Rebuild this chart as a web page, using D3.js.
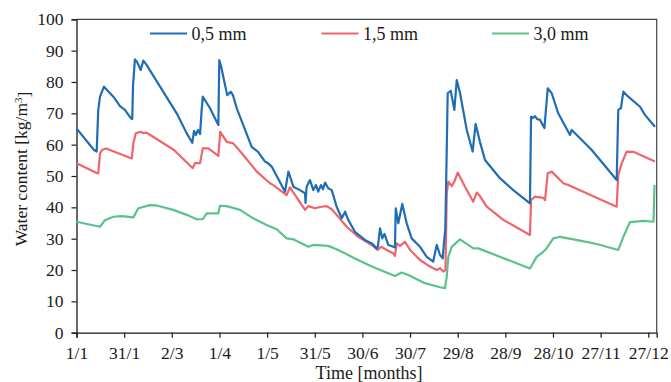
<!DOCTYPE html>
<html><head><meta charset="utf-8">
<script src="https://cdn.jsdelivr.net/npm/d3@7"></script>
<style>body{margin:0;background:#fff}</style>
</head><body><svg id="c" width="671" height="382"></svg>
<script>
// day of year (0 = 1 Jan), water content [kg/m3]
const blue05 = [[0,65.2],[11,58.3],[12.7,57.8],[13.7,71.1],[14.8,75.3],[17.3,78.5],[23.2,75.3],[27.4,72.3],[30.5,71.1],[34.3,68.4],[35.1,68.2],[35.6,79.0],[36.8,87.2],[38.1,86.4],[40.4,83.8],[42.1,86.8],[43.8,85.7],[52.6,78.5],[63.1,70.0],[69.4,63.6],[72.9,60.6],[74.0,64.4],[75.2,63.1],[76.5,64.7],[77.8,63.4],[78.8,71.1],[79.5,75.3],[84.0,71.7],[89.3,66.3],[89.9,87.0],[91.0,85.1],[92.4,81.7],[94.9,75.8],[97.1,76.9],[98.5,75.8],[100.9,71.6],[110.3,59.3],[114.3,57.7],[118.7,54.6],[120.6,54.1],[122.9,53.0],[131.3,45.0],[133.4,51.4],[134.4,50.0],[136.5,46.6],[140.7,45.5],[143.9,44.5],[144.2,41.4],[144.9,46.6],[147.0,48.7],[149.1,45.5],[150.8,47.1],[152.2,45.0],[153.9,47.1],[155.2,45.8],[156.5,47.9],[158.5,46.1],[160.7,45.5],[163.8,40.2],[167.0,36.5],[169.1,38.6],[171.1,36.0],[175.3,32.2],[181.6,29.6],[185.9,28.5],[189.0,26.9],[189.8,27.6],[191.1,33.3],[192.5,30.1],[193.9,31.5],[196.3,28.0],[199.5,27.4],[200.5,27.2],[201.0,39.7],[202.6,34.9],[205.1,41.1],[207.9,34.9],[211.0,30.1],[216.3,27.4],[220.5,24.2],[224.6,22.7],[226.8,28.0],[228.9,24.8],[230.6,23.7],[231.4,29.0],[232.2,32.8],[233.1,58.3],[233.7,76.4],[235.6,77.2],[236.7,74.3],[237.9,71.1],[239.4,80.6],[241.5,76.4],[245.7,64.7],[249.4,57.8],[251.3,66.6],[254.0,60.9],[257.2,55.1],[266.6,49.3],[275.0,45.5],[285.5,41.3],[286.2,68.9],[287.4,68.5],[288.7,69.1],[289.9,68.2],[291.8,67.9],[294.6,65.3],[296.7,78.0],[299.2,76.4],[303.3,70.0],[309.6,64.1],[310.7,63.1],[311.8,64.7],[324.4,58.3],[340.1,48.7],[341.1,71.1],[342.8,71.7],[344.3,76.9],[347.4,75.3],[354.8,72.1],[357.9,69.5],[364.2,65.7]];
const red15 = [[0,54.1],[13.1,50.9],[13.7,50.9],[14.8,57.2],[16.1,58.3],[18.6,58.8],[34.8,55.6],[35.8,60.4],[37.3,63.6],[40.4,64.1],[41.9,63.7],[44.2,63.8],[61.4,58.3],[73.2,52.5],[74.6,54.1],[77.8,54.1],[79.5,58.8],[83.0,58.8],[89.3,56.4],[90.5,64.1],[94.6,60.9],[98.7,60.4],[105.0,56.7],[113.5,51.4],[121.8,47.7],[123.9,47.1],[132.3,43.9],[134.4,46.4],[136.3,44.9],[143.9,39.2],[145.9,40.4],[150.2,39.7],[153.3,40.1],[157.5,40.4],[160.7,39.4],[164.8,37.0],[170.1,33.8],[177.4,30.6],[185.9,28.0],[189.6,26.4],[191.7,27.4],[194.2,26.7],[199.5,25.3],[200.5,24.5],[201.6,28.5],[203.7,27.7],[206.8,29.0],[210.0,26.4],[216.3,23.2],[222.6,21.1],[226.8,20.0],[228.9,20.6],[230.9,19.5],[232.3,20.0],[233.1,44.5],[234.1,48.2],[236.2,46.8],[237.9,48.2],[240.0,51.1],[244.6,46.6],[249.8,41.8],[252.0,44.7],[254.0,43.6],[258.3,40.2],[268.7,36.0],[285.5,31.2],[286.2,42.3],[288.7,43.4],[293.9,43.0],[295.0,42.3],[296.7,50.9],[299.2,51.4],[306.5,47.7],[309.6,47.1],[340.1,40.2],[341.1,50.3],[343.3,54.1],[346.4,57.8],[350.6,57.7],[364.2,54.6]];
const green30 = [[0,35.4],[14.8,33.8],[17.9,35.9],[23.2,37.0],[28.5,37.2],[35.8,36.8],[38.9,39.7],[46.3,40.7],[50.5,40.6],[60.9,39.2],[69.4,37.6],[75.7,36.2],[79.5,36.2],[82.0,38.1],[89.3,38.1],[90.3,40.5],[94.6,40.4],[103.0,39.2],[111.3,36.5],[119.7,34.4],[126.0,33.0],[132.3,30.1],[136.5,29.8],[145.9,27.4],[149.1,28.0],[158.5,27.7],[164.8,26.4],[175.3,23.7],[185.9,21.1],[200.5,18.1],[204.7,19.2],[208.9,18.4],[219.4,15.8],[228.9,14.5],[232.0,14.2],[233.1,17.9],[234.1,24.2],[236.2,27.4],[241.5,29.8],[249.8,26.9],[253.0,26.9],[285.5,20.5],[289.7,24.2],[293.9,25.8],[295.6,26.7],[300.2,30.1],[304.4,30.6],[317.0,29.4],[327.5,28.3],[341.1,26.4],[344.3,30.6],[348.5,35.3],[356.9,35.7],[363.3,35.4],[363.9,47.1]];
const seriesNames = ["0,5 mm","1,5 mm","3,0 mm"];
const seriesColors = ["#1f6db5","#f0646c","#5cc28c"];
const xTickDays = [0,30,60,90,120,150,180,210,240,270,300,330,360];
const xTickLabels = ["1/1","31/1","2/3","1/4","1/5","31/5","30/6","30/7","29/8","28/9","28/10","27/11","27/12"];
const yTicks = [0,10,20,30,40,50,60,70,80,90,100];

const svg = d3.select("#c");
const L=76.5, R=656.7, T=19.3, B=332.7;
const x = d3.scaleLinear().domain([0,365.3]).range([L,R]);
const y = d3.scaleLinear().domain([0,100]).range([B,T]);
const font = "'Liberation Serif','Times New Roman',serif";
const ink = "#1a1a1a";

// frame top/right
svg.append("path").attr("d",`M${L},${T}H${R}V${B}`).attr("fill","none").attr("stroke","#444").attr("stroke-width",1.2);

const xAxis = d3.axisBottom(x).tickValues(xTickDays).tickFormat((d,i)=>xTickLabels[i]).tickSize(5).tickPadding(9);
const gx = svg.append("g").attr("transform",`translate(0,${B})`).call(xAxis);
const yAxis = d3.axisLeft(y).tickValues(yTicks).tickSize(5).tickPadding(8);
const gy = svg.append("g").attr("transform",`translate(${L},0)`).call(yAxis);
[gx,gy].forEach(g=>{
  g.select(".domain").attr("stroke",ink).attr("stroke-width",1.3);
  g.selectAll(".tick line").attr("stroke",ink).attr("stroke-width",1.2);
  g.selectAll("text").attr("fill",ink).style("font-family",font).style("font-size","17.5px");
});
gx.selectAll("text").attr("dy","0.71em");

const line = d3.line().x(d=>x(d[0])).y(d=>y(d[1]));
[green30, red15, blue05].forEach((s,k)=>{
  const idx = 2-k;
  svg.append("path").datum(s).attr("d",line).attr("fill","none")
    .attr("stroke",seriesColors[idx]).attr("stroke-width",2.2).attr("stroke-linejoin","round");
});

// legend
const legX = [150, 321.5, 492];
seriesNames.forEach((n,i)=>{
  svg.append("line").attr("x1",legX[i]).attr("x2",legX[i]+37).attr("y1",33.5).attr("y2",33.5)
    .attr("stroke",seriesColors[i]).attr("stroke-width",2.2);
  svg.append("text").attr("x",legX[i]+41.5).attr("y",40).text(n)
    .attr("fill",ink).style("font-family",font).style("font-size","18px");
});

// titles
svg.append("text").attr("transform",`translate(27,169) rotate(-90)`).attr("text-anchor","middle")
  .text("Water content [kg/m").attr("fill",ink).style("font-family",font).style("font-size","17.5px")
  .append("tspan").text("3").attr("dy","-0.45em").style("font-size","11px")
  .select(function(){return this.parentNode;}).append("tspan").text("]").attr("dy","0.45em");
svg.append("text").attr("x",369).attr("y",379).attr("text-anchor","middle").text("Time [months]")
  .attr("fill",ink).style("font-family",font).style("font-size","18px");
</script></body></html>
